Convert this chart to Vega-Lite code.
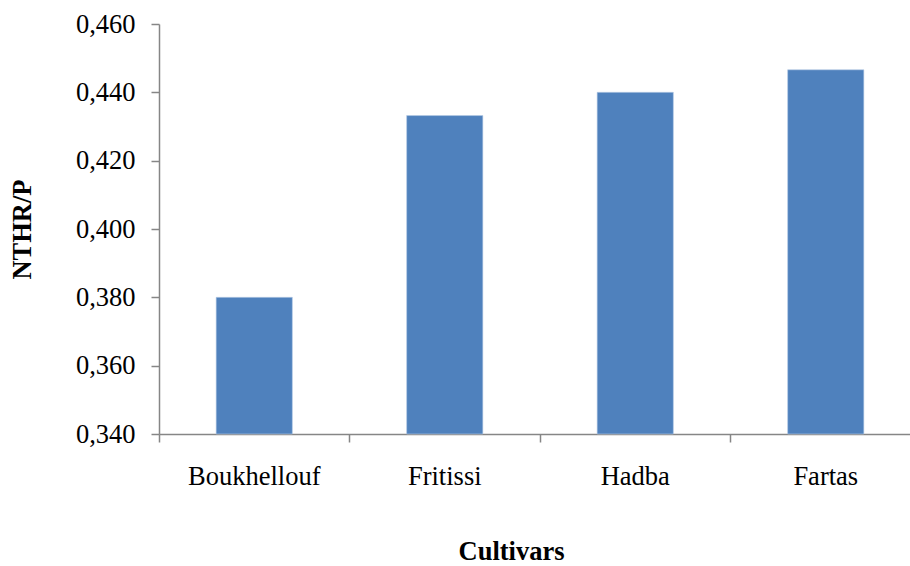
{
  "$schema": "https://vega.github.io/schema/vega-lite/v6.json",
  "autosize": {"type": "none"},
  "padding": {"left": 159, "top": 24, "right": 0, "bottom": 132},
  "width": 751,
  "height": 410,
  "background": "white",
  "config": {
    "view": {"stroke": null},
    "font": "Liberation Serif",
    "axis": {
      "labelFont": "Liberation Serif",
      "titleFont": "Liberation Serif",
      "labelColor": "black",
      "titleColor": "black",
      "domainColor": "#868686",
      "tickColor": "#868686",
      "domainWidth": 1.5,
      "tickWidth": 1.5,
      "grid": false
    }
  },
  "data": {
    "values": [
      {"cultivar": "Boukhellouf", "nthr": 0.380},
      {"cultivar": "Fritissi", "nthr": 0.4332},
      {"cultivar": "Hadba", "nthr": 0.440},
      {"cultivar": "Fartas", "nthr": 0.4466}
    ]
  },
  "mark": {"type": "bar", "color": "#4F81BD", "stroke": "#B9CDE5", "strokeWidth": 0.6, "width": {"band": 0.4}},
  "encoding": {
    "x": {
      "field": "cultivar",
      "type": "nominal",
      "sort": null,
      "scale": {"range": [0, 762], "paddingInner": 0, "paddingOuter": 0},
      "axis": {
        "title": "Cultivars",
        "titleFontSize": 26.5,
        "titleFontWeight": "bold",
        "titleX": 352,
        "titleY": 125,
        "titleBaseline": "alphabetic",
        "titleAlign": "center",
        "labelFontSize": 26.5,
        "labelAngle": 0,
        "labelPadding": 21,
        "labelBaseline": "top",
        "tickSize": 8,
        "bandPosition": 0
      }
    },
    "y": {
      "field": "nthr",
      "type": "quantitative",
      "scale": {"domain": [0.34, 0.46], "zero": false, "nice": false},
      "axis": {
        "title": "NTHR/P",
        "titleFontSize": 26.5,
        "titleFontWeight": "bold",
        "titleAngle": -90,
        "titleX": -137,
        "titleY": 205,
        "titleAlign": "center",
        "titleBaseline": "middle",
        "values": [0.34, 0.36, 0.38, 0.40, 0.42, 0.44, 0.46],
        "labelExpr": "replace(format(datum.value, '.3f'), '.', ',')",
        "labelFontSize": 26.5,
        "labelPadding": 16,
        "tickSize": 8
      }
    },
    "y2": {"datum": 0.34}
  }
}
